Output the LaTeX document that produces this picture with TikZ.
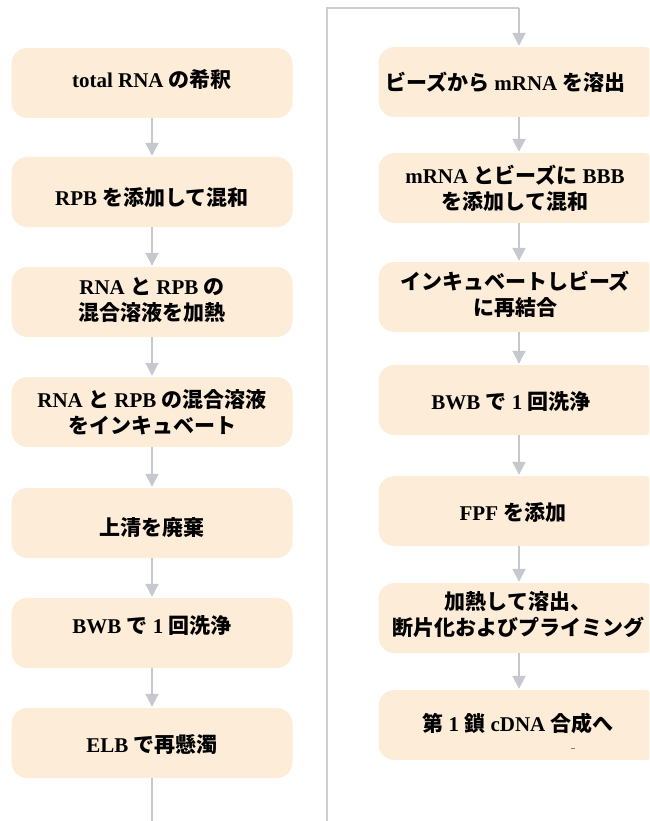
\documentclass[tikz,border=0pt]{standalone}
\usepackage{fontspec}
\setmainfont{Liberation Serif}
\newfontfamily\jpfont{Noto Sans CJK JP}
\newcommand\jx[1]{{\jpfont #1}}
\usetikzlibrary{arrows.meta}
\definecolor{boxfill}{RGB}{253,236,216}
\definecolor{arrgray}{RGB}{199,200,205}
\definecolor{linegray}{RGB}{205,206,210}
\tikzset{
  box/.style={rectangle, rounded corners=16pt, fill=boxfill, draw=none,
    minimum width=281pt, minimum height=70pt, inner sep=0pt},
  txt/.style={align=center, inner sep=0pt, font=\fontsize{21}{26}\selectfont\bfseries},
  flow/.style={draw=arrgray, line width=2pt, -{Triangle[width=13pt,length=13pt]}, shorten >=1pt},
  plain/.style={draw=linegray, line width=1.6pt}
}
\begin{document}
\begin{tikzpicture}[x=1pt,y=-1pt]
\useasboundingbox (0,0) rectangle (649,821);
\clip (0,0) rectangle (649,821);
% left column boxes
\node[box] (L1) at (152,83) {};
\node[box] (L2) at (152,192) {};
\node[box] (L3) at (152,302) {};
\node[box] (L4) at (152,412) {};
\node[box] (L5) at (152,523) {};
\node[box] (L6) at (152,633) {};
\node[box] (L7) at (152,743) {};
% right column boxes
\node[box] (R1) at (519,82) {};
\node[box] (R2) at (519,188) {};
\node[box] (R3) at (519,297) {};
\node[box] (R4) at (519,400) {};
\node[box] (R5) at (519,511) {};
\node[box] (R6) at (519,618) {};
\node[box] (R7) at (519,725) {};
% texts
\node[txt] (tL1) at (152,80) {total RNA \jx{の希釈}};
\node[txt] (tL2) at (152,198) {RPB \jx{を添加して混和}};
\node[txt] (tL3) at (152,300) {RNA \jx{と} RPB \jx{の}\\\jx{混合溶液を加熱}};
\node[txt] (tL4) at (152,412) {RNA \jx{と} RPB \jx{の混合溶液}\\\jx{をインキュベート}};
\node[txt] (tL5) at (152,528) {\jx{上清を廃棄}};
\node[txt] (tL6) at (152,625) {BWB \jx{で} 1 \jx{回洗浄}};
\node[txt] (tL7) at (152,745) {ELB \jx{で再懸濁}};
\node[txt, anchor=west] (tR1) at (385,82) {\jx{ビーズから} mRNA \jx{を溶出}};
\node[txt] (tR2) at (515,188) {mRNA \jx{とビーズに} BBB\\\jx{を添加して混和}};
\node[txt] (tR3) at (515,294) {\jx{インキュベートしビーズ}\\\jx{に再結合}};
\node[txt] (tR4) at (511,401) {BWB \jx{で} 1 \jx{回洗浄}};
\node[txt] (tR5) at (513,513) {FPF \jx{を添加}};
\node[txt] (tR6) at (518,615) {\jx{加熱して溶出、}\\\jx{断片化およびプライミング}};
\node[txt] (tR7) at (518,723) {\jx{第} 1 \jx{鎖} cDNA \jx{合成へ}};
% tiny mark in last box
\draw[draw=gray, line width=1pt] (571,748) -- (575,748);
% connectors left
\draw[flow] (L1) -- (L2);
\draw[flow] (L2) -- (L3);
\draw[flow] (L3) -- (L4);
\draw[flow] (L4) -- (L5);
\draw[flow] (L5) -- (L6);
\draw[flow] (L6) -- (L7);
\coordinate (Lend) at (152,825);
\draw[draw=arrgray, line width=2pt] (L7.south) -- (Lend);
% connector to right column
\coordinate (cb) at (327,825);
\coordinate (ct) at (327,8);
\coordinate (cr) at (519,8);
\draw[plain] (cb) -- (ct) -- (cr);
\draw[flow] (cr) -- (R1.north);
% connectors right
\draw[flow] (R1) -- (R2);
\draw[flow] (R2) -- (R3);
\draw[flow] (R3) -- (R4);
\draw[flow] (R4) -- (R5);
\draw[flow] (R5) -- (R6);
\draw[flow] (R6) -- (R7);
\end{tikzpicture}
\end{document}
